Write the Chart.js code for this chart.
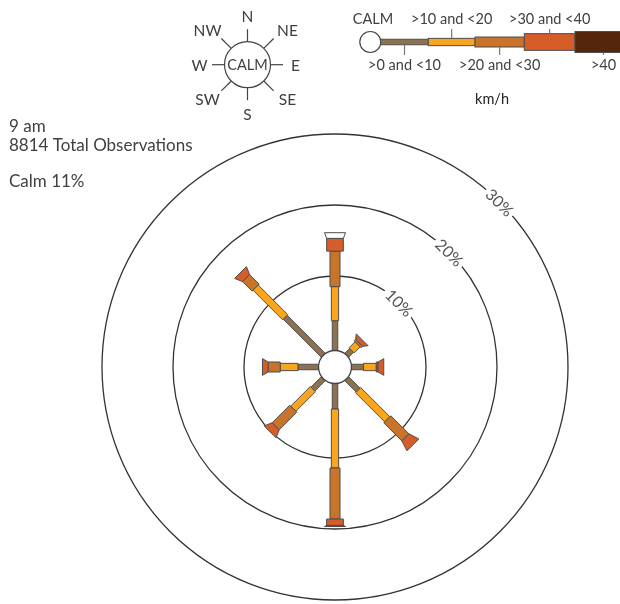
<!DOCTYPE html>
<html><head><meta charset="utf-8">
<script src="https://cdn.jsdelivr.net/npm/chart.js@4"></script>
<style>html,body{margin:0;padding:0;background:#fff;} canvas{display:block;}</style>
</head><body>
<canvas id="c" width="620" height="604"></canvas>
<script>
// ---------- data ----------
const timeLabel = '9 am';
const totalObservations = 8814;
const calmPercent = 11;
const directions = ['N','NE','E','SE','S','SW','W','NW'];
const directionBearings = [0,45,90,135,180,225,270,315];
const speedCategories = ['>0 and <10','>10 and <20','>20 and <30','>30 and <40','>40'];
const speedUnit = 'km/h';
const ringTicks = [10,20,30];
// percentage of observations, per direction (N, NE, E, SE, S, SW, W, NW)
const speed0to10  = [3.7, 0.5, 1.2, 1.8, 3.1, 1.6, 2.4, 7.1];
const speed10to20 = [4.8, 1.2, 1.8, 5.8, 8.3, 3.9, 2.5, 5.9];
const speed20to30 = [5.0, 0.3, 0.25, 3.6, 7.2, 3.5, 1.7, 1.9];
const speed30to40 = [1.8, 0.6, 0.8, 1.5, 0.9, 1.1, 0.8, 1.1];
const speedOver40 = [0.8, 0, 0, 0, 0.15, 0, 0, 0];

// ---------- styles ----------
const speedColours = ['#8c7250','#f9a61e','#c8742a','#d65c2a','#55260c'];
const speedBarWidths = [5.5, 7.3, 10, 16.7, 21];
const capOverride = {N: '#ffffff'};
const PX_PER_PCT = 7.1, RING_ORIGIN_PX = 20, CALM_PX = 16.5;
const OFFSET = RING_ORIGIN_PX / PX_PER_PCT;
const HALF = 237 / PX_PER_PCT;
const FONT = 'Lato, "Open Sans", sans-serif';
const TXT = '#404040';

const series = [speed0to10, speed10to20, speed20to30, speed30to40, speedOver40];

const rosePlugin = {
  id: 'rose',
  afterDraw(chart) {
    const ctx = chart.ctx, xs = chart.scales.x, ys = chart.scales.y;
    const P = (r, b) => { const a = b * Math.PI / 180; return [xs.getPixelForValue(r * Math.sin(a)), ys.getPixelForValue(r * Math.cos(a))]; };
    const cx = xs.getPixelForValue(0), cy = ys.getPixelForValue(0);
    const unit = xs.getPixelForValue(1) - cx;
    ctx.save();
    // rings
    ctx.strokeStyle = '#333'; ctx.lineWidth = 1.3;
    ringTicks.forEach(t => {
      ctx.beginPath(); ctx.arc(cx, cy, (OFFSET + t) * unit, 0, Math.PI * 2); ctx.stroke();
    });
    ctx.font = '16px ' + FONT; ctx.textAlign = 'center'; ctx.textBaseline = 'middle';
    ringTicks.forEach(t => {
      const [x, y] = P(OFFSET + t, 45);
      ctx.save(); ctx.translate(x, y); ctx.rotate(Math.PI / 4);
      const w = ctx.measureText(t + '%').width;
      ctx.fillStyle = '#fff'; ctx.fillRect(-w / 2 - 3, -8, w + 6, 16);
      ctx.fillStyle = '#555'; ctx.fillText(t + '%', 0, 1);
      ctx.restore();
    });
    // arms
    directions.forEach((d, di) => {
      const b = directionBearings[di] * Math.PI / 180;
      const px = Math.cos(b), py = Math.sin(b);   // perpendicular in pixel space
      const vals = series.map(s => s[di]);
      let first = vals.findIndex(v => v > 0), last = -1;
      vals.forEach((v, i) => { if (v > 0) last = i; });
      let cum = 0, prevW = speedBarWidths[first];
      vals.forEach((v, i) => {
        if (v <= 0) return;
        const r0 = i === first ? CALM_PX / unit : OFFSET + cum;
        cum += v;
        const r1 = OFFSET + cum;
        const w1 = speedBarWidths[i];
        const w0 = (i === last && i !== first) ? prevW : w1;
        const [x0, y0] = P(r0, directionBearings[di]);
        const [x1, y1] = P(r1, directionBearings[di]);
        ctx.beginPath();
        ctx.moveTo(x0 + px * w0 / 2, y0 + py * w0 / 2);
        ctx.lineTo(x1 + px * w1 / 2, y1 + py * w1 / 2);
        ctx.lineTo(x1 - px * w1 / 2, y1 - py * w1 / 2);
        ctx.lineTo(x0 - px * w0 / 2, y0 - py * w0 / 2);
        ctx.closePath();
        ctx.fillStyle = (i === last && capOverride[d]) ? capOverride[d] : speedColours[i];
        ctx.fill();
        ctx.strokeStyle = '#4d4d4d'; ctx.lineWidth = 1; ctx.stroke();
        prevW = w1;
      });
    });
    // calm circle
    ctx.beginPath(); ctx.arc(cx, cy, CALM_PX, 0, Math.PI * 2);
    ctx.fillStyle = '#fff'; ctx.fill(); ctx.strokeStyle = '#444'; ctx.lineWidth = 1.3; ctx.stroke();

    // top-left text
    ctx.fillStyle = TXT; ctx.textAlign = 'left'; ctx.textBaseline = 'alphabetic';
    ctx.font = '17px ' + FONT;
    ctx.fillText(timeLabel, 9, 132);
    ctx.fillText(totalObservations + ' Total Observations', 9, 151);
    ctx.fillText('Calm ' + calmPercent + '%', 9, 187);

    // compass key
    const kx = 247.5, ky = 64.7, kr = 23;
    ctx.strokeStyle = '#444'; ctx.lineWidth = 1.2;
    ctx.beginPath(); ctx.arc(kx, ky, kr, 0, Math.PI * 2); ctx.stroke();
    directions.forEach((d, di) => {
      const b = directionBearings[di] * Math.PI / 180;
      const sx = Math.sin(b), sy = -Math.cos(b);
      const len = di % 2 ? 37 : 35.5;
      ctx.beginPath(); ctx.moveTo(kx + sx * kr, ky + sy * kr); ctx.lineTo(kx + sx * len, ky + sy * len); ctx.stroke();
      let lx, ly;
      if (di % 2 === 0) { lx = kx + sx * 48; ly = ky + sy * 49; }
      else { lx = kx + Math.sign(sx) * 40; ly = ky + Math.sign(sy) * 34.5; }
      ctx.font = '15.5px ' + FONT; ctx.textAlign = 'center'; ctx.textBaseline = 'middle';
      ctx.fillStyle = TXT; ctx.fillText(d, lx, ly + 1);
    });
    ctx.font = '14.5px ' + FONT; ctx.fillText('CALM', kx, ky + 1);

    // speed key
    const by = 42;
    ctx.beginPath(); ctx.arc(370.3, by, 10.5, 0, Math.PI * 2);
    ctx.fillStyle = '#fff'; ctx.fill(); ctx.strokeStyle = '#444'; ctx.lineWidth = 1.2; ctx.stroke();
    ctx.font = '14.5px ' + FONT; ctx.fillStyle = TXT; ctx.textBaseline = 'alphabetic';
    ctx.fillText('CALM', 373, 24);
    const segX = [380.7, 428.3, 475, 524.3, 575, 640];
    speedCategories.forEach((c, i) => {
      const x0 = segX[i], x1 = segX[i + 1], h = speedBarWidths[i];
      ctx.fillStyle = speedColours[i];
      ctx.fillRect(x0, by - h / 2, x1 - x0, h);
      ctx.strokeStyle = '#4d4d4d'; ctx.lineWidth = 1; ctx.strokeRect(x0, by - h / 2, x1 - x0, h);
      const mx = i < 4 ? (x0 + x1) / 2 : 603.5;
      ctx.strokeStyle = '#777'; ctx.lineWidth = 1.2;
      ctx.beginPath();
      ctx.font = '14.5px ' + FONT; ctx.fillStyle = TXT; ctx.textAlign = 'center';
      if (i % 2 === 1) {
        ctx.moveTo(mx, by - h / 2); ctx.lineTo(mx, 29); ctx.stroke();
        ctx.fillText(c, mx, 24);
      } else {
        ctx.moveTo(mx, by + h / 2); ctx.lineTo(mx, 55); ctx.stroke();
        ctx.fillText(c, mx, 70);
      }
    });
    ctx.font = '14.5px ' + FONT; ctx.fillStyle = '#222';
    ctx.fillText(speedUnit, 492, 104);
    ctx.restore();
  }
};

new Chart(document.getElementById('c'), {
  type: 'scatter',
  data: { datasets: [] },
  options: {
    responsive: false, animation: false,
    layout: { padding: { left: 98, right: 48, top: 130, bottom: 0 } },
    scales: {
      x: { type: 'linear', min: -HALF, max: HALF, display: false },
      y: { type: 'linear', min: -HALF, max: HALF, display: false }
    },
    plugins: { legend: { display: false }, tooltip: { enabled: false } }
  },
  plugins: [rosePlugin]
});
</script>
</body></html>
